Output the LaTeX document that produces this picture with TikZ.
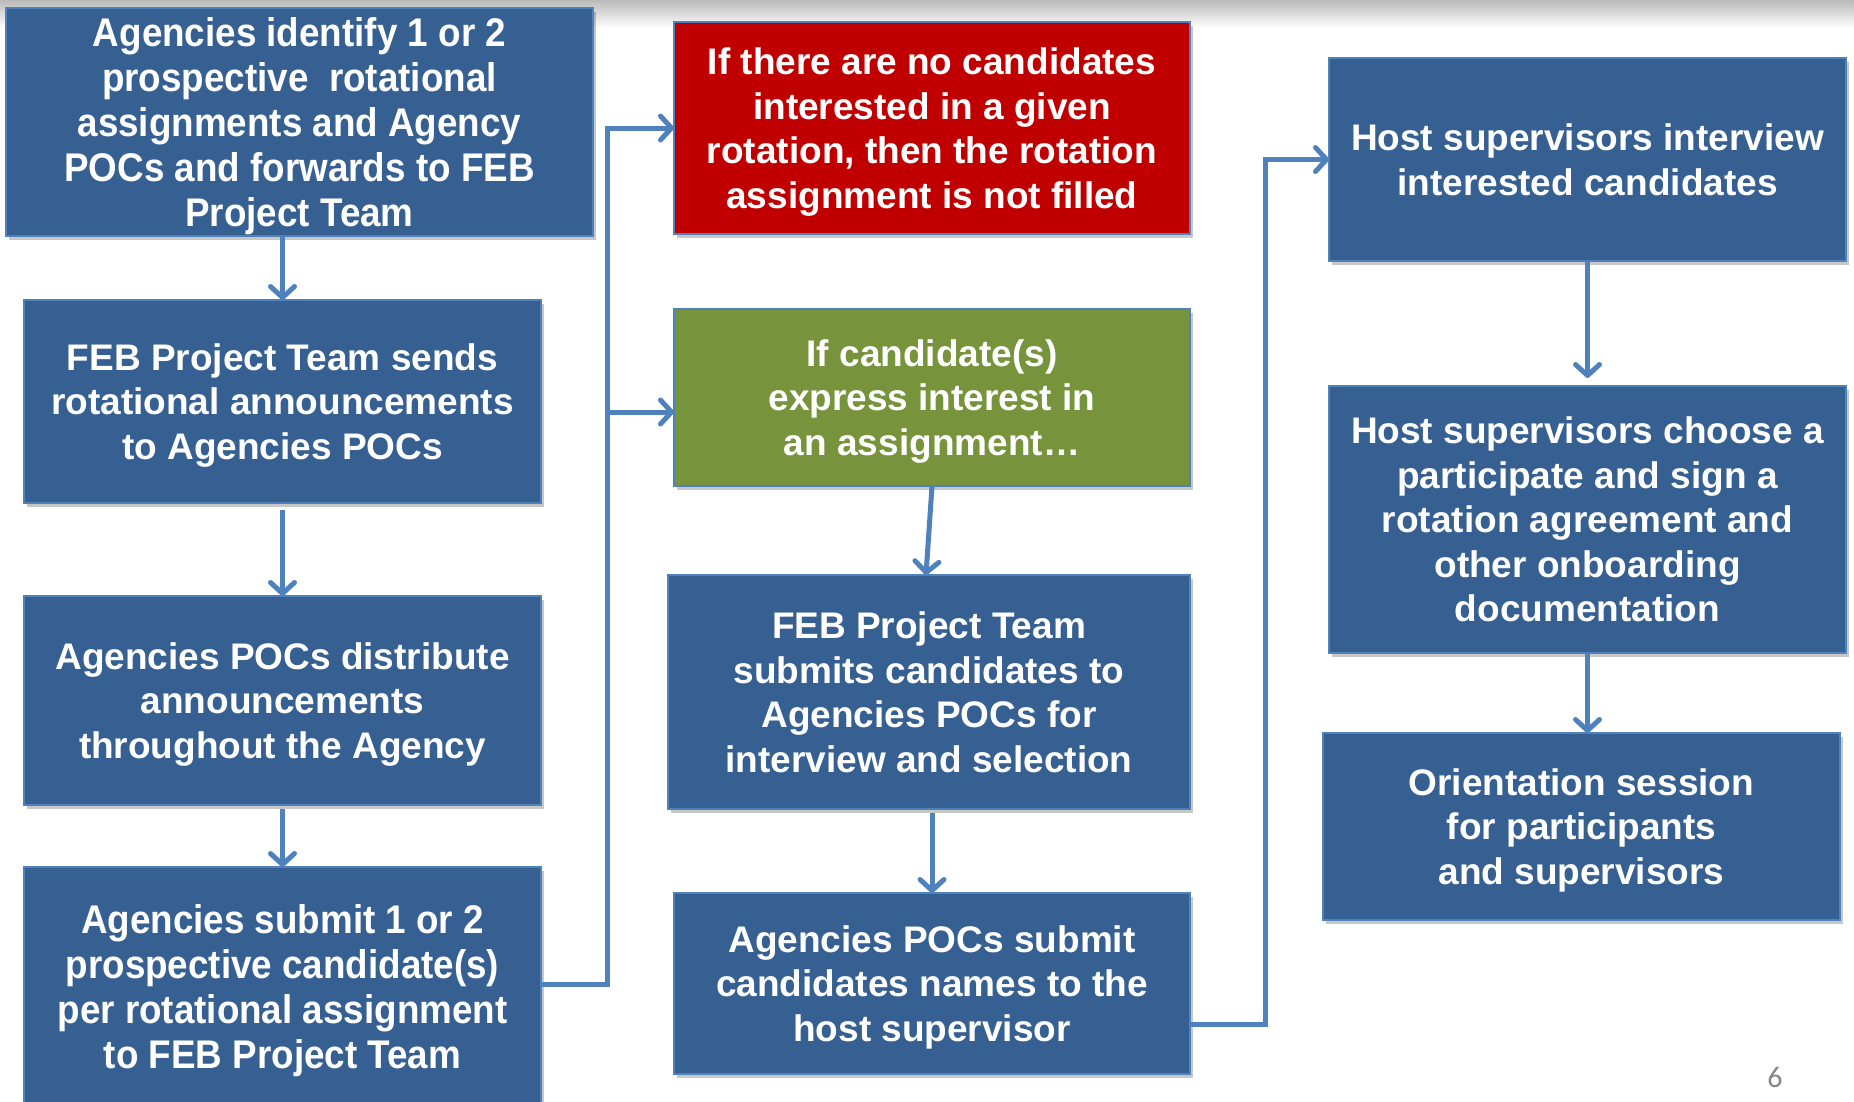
\documentclass[tikz,border=0pt]{standalone}
\usepackage{fontspec}
\setmainfont{Liberation Sans}
\newfontfamily\narrowf{Liberation Sans}[FakeStretch=0.92]
\newfontfamily\pagef{Carlito}
\usetikzlibrary{arrows.meta,shadows}
\definecolor{boxblue}{HTML}{376092}
\definecolor{edgeblue}{HTML}{4F81BD}
\definecolor{boxred}{HTML}{C00000}
\definecolor{boxgreen}{HTML}{77933C}
\newcommand{\tstr}{\rule{0pt}{0.96em}}
\newcommand{\bstr}{\rule[-0.243em]{0pt}{0.243em}}
\tikzset{
  flowbox/.style={draw=edgeblue, line width=2pt, fill=boxblue, text=white,
    align=center, inner sep=0pt, outer sep=0pt,
    font=\fontsize{37}{44.5}\selectfont\bfseries,
    drop shadow={shadow xshift=3pt, shadow yshift=-4pt, fill=black, opacity=0.22}},
  narrowbox/.style={flowbox, font=\narrowf\fontsize{40}{45}\selectfont\bfseries},
  redbox/.style={flowbox, fill=boxred},
  greenbox/.style={flowbox, fill=boxgreen},
  conn/.style={draw=edgeblue, line width=5pt, line join=miter,
    -{Straight Barb[length=11pt,width=24pt,line cap=round,line join=round]}}
}
\begin{document}
\begin{tikzpicture}[x=1pt,y=-1pt]
\useasboundingbox (0,0) rectangle (1854,1101);
\clip (0,0) rectangle (1854,1101);
\fill[white] (0,0) rectangle (1854,1101);
\shade[top color=black!27, bottom color=white] (0,0) rectangle (1854,28);

% boxes
\node[narrowbox, minimum width=587pt, minimum height=228pt] (A) at (299.5,122)
  {\tstr Agencies identify 1 or 2\\prospective\ \ rotational\\assignments and Agency\\POCs and forwards to FEB\\Project Team\bstr};
\node[flowbox, minimum width=517pt, minimum height=203pt] (B) at (282.5,401.5)
  {\tstr FEB Project Team sends\\rotational announcements\\to Agencies POCs\bstr};
\node[flowbox, minimum width=517pt, minimum height=209pt] (C) at (282.5,700.5)
  {\tstr Agencies POCs distribute\\announcements\\throughout the Agency\bstr};
\node[narrowbox, minimum width=517pt, minimum height=239pt] (D) at (282.5,986.5)
  {\tstr Agencies submit 1 or 2\\prospective candidate(s)\\per rotational assignment\\to FEB Project Team\bstr};

\node[redbox, minimum width=516pt, minimum height=212pt] (E) at (932,128)
  {\tstr If there are no candidates\\interested in a given\\rotation, then the rotation\\assignment is not filled\bstr};
\node[greenbox, minimum width=516pt, minimum height=177pt] (F) at (932,397.5)
  {\tstr If candidate(s)\\express interest in\\an assignment…\bstr};
\node[flowbox, minimum width=522pt, minimum height=234pt] (G) at (929,692)
  {\tstr FEB Project Team\\submits candidates to\\Agencies POCs for\\interview and selection\bstr};
\node[flowbox, minimum width=516pt, minimum height=181pt] (H) at (932,983.5)
  {\tstr Agencies POCs submit\\candidates names to the\\host supervisor\bstr};

\node[flowbox, minimum width=517pt, minimum height=203pt] (I) at (1587.5,159.5)
  {\tstr Host supervisors interview\\interested candidates\bstr};
\node[flowbox, minimum width=517pt, minimum height=267pt] (J) at (1587.5,519.5)
  {\tstr Host supervisors choose a\\participate and sign a\\rotation agreement and\\other onboarding\\documentation\bstr};
\node[flowbox, minimum width=517pt, minimum height=187pt] (K) at (1581.5,826.5)
  {\tstr Orientation session\\for participants\\and supervisors\bstr};

% connectors
\draw[conn] (B.north |- A.south) -- (B.north);
\draw[conn] (B.south) ++(0,7) -- (C.north);
\draw[conn] (C.south) ++(0,4) -- (D.north);

\coordinate (dj) at (607,984);
\coordinate (fj) at (607,412);
\draw[conn] (D.east |- dj) -- (dj) |- (E.west);
\draw[conn] (fj) -- (fj -| F.west);

\draw[conn] (F.south) -- ([xshift=-3pt]G.north);
\draw[conn] (H.north |- G.south) ++(0,4) -- (H.north);

\coordinate (hj) at (1265,1024);
\draw[conn] (hj -| H.east) -- (hj) |- (I.west);

\draw[conn] (I.south) -- ([yshift=8pt]J.north);
\draw[conn] (J.south) -- (J.south |- K.north);

% page number
\node[text=black!47, font=\pagef\fontsize{30}{36}\selectfont, inner sep=0pt] (pg) at (1775,1077) {6};
\end{tikzpicture}
\end{document}
